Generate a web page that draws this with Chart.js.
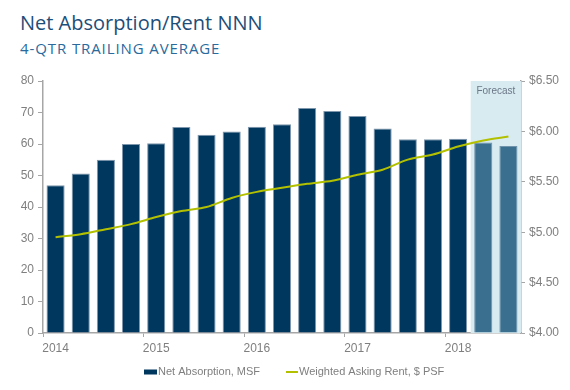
<!DOCTYPE html>
<html>
<head>
<meta charset="utf-8">
<script src="https://cdn.jsdelivr.net/npm/chart.js@4"></script>
<style>
  html,body{margin:0;padding:0;background:#fff;}
  #wrap{position:relative;width:570px;height:390px;overflow:hidden;}
  #title{position:absolute;left:20px;top:9px;font-family:"Open Sans",sans-serif;font-size:20px;color:#1d4e79;white-space:nowrap;}
  #subtitle{position:absolute;left:20px;top:38px;font-family:"Open Sans",sans-serif;font-size:15px;color:#2a6a9c;white-space:nowrap;letter-spacing:0.9px;}
  canvas{position:absolute;left:0;top:0;}
</style>
</head>
<body>
<div id="wrap">
  <div id="title">Net Absorption/Rent NNN</div>
  <div id="subtitle">4-QTR TRAILING AVERAGE</div>
  <canvas id="c" width="570" height="390"></canvas>
</div>
<script>
const quarters = ['2014 Q1','2014 Q2','2014 Q3','2014 Q4','2015 Q1','2015 Q2','2015 Q3','2015 Q4','2016 Q1','2016 Q2','2016 Q3','2016 Q4','2017 Q1','2017 Q2','2017 Q3','2017 Q4','2018 Q1','2018 Q2','2018 Q3'];
const netAbsorption = [46.9, 50.6, 55.0, 60.0, 60.2, 65.4, 62.9, 64.0, 65.5, 66.3, 71.4, 70.5, 68.9, 64.9, 61.5, 61.5, 61.7, 60.5, 59.4];
const askingRent = [4.95, 4.98, 5.03, 5.08, 5.15, 5.21, 5.25, 5.34, 5.40, 5.44, 5.48, 5.51, 5.57, 5.62, 5.72, 5.77, 5.85, 5.91, 5.95];
const forecastStart = 17;
const leftTicks = [0,10,20,30,40,50,60,70,80];
const rightTicks = [4.0,4.5,5.0,5.5,6.0,6.5];

const narrow = '"Liberation Sans Narrow","Liberation Sans",Arial,sans-serif';
const tickFont = {family:narrow, size:12};
const tickColor = '#7f7f7f';
const axisColor = '#a6a6a6';
const barColor = '#00375f';
const forecastBarColor = '#3b6f90';
const lineColor = '#b3c000';

const forecastPlugin = {
  id:'forecast',
  beforeDatasetsDraw(chart){
    const {ctx, chartArea, scales} = chart;
    const x = scales.x;
    const half = (x.getPixelForValue(1) - x.getPixelForValue(0))/2;
    const x0 = x.getPixelForValue(forecastStart) - half;
    ctx.save();
    ctx.fillStyle = '#d8ebf1';
    ctx.fillRect(x0, chartArea.top, chartArea.right - x0, chartArea.bottom - chartArea.top);
    ctx.fillStyle = '#6b7787';
    ctx.font = '10px ' + narrow;
    ctx.textAlign = 'center';
    ctx.textBaseline = 'middle';
    ctx.fillText('Forecast', (x0 + chartArea.right)/2, chartArea.top + 10);
    ctx.restore();
  }
};

const legendPlugin = {
  id:'customLegend',
  afterDraw(chart){
    const ctx = chart.ctx;
    const y = 372;
    ctx.save();
    ctx.font = '11px ' + narrow;
    ctx.textBaseline = 'middle';
    ctx.textAlign = 'left';
    // bar item
    ctx.fillStyle = barColor;
    ctx.fillRect(144, y - 2.5, 13, 5);
    ctx.fillStyle = tickColor;
    ctx.fillText(chart.data.datasets[1].label, 158, y);
    // line item
    ctx.strokeStyle = lineColor;
    ctx.lineWidth = 2;
    ctx.beginPath();
    ctx.moveTo(286, y);
    ctx.lineTo(298, y);
    ctx.stroke();
    ctx.fillStyle = tickColor;
    ctx.fillText(chart.data.datasets[0].label, 299, y);
    ctx.restore();
  }
};

new Chart(document.getElementById('c'), {
  data:{
    labels: quarters,
    datasets:[
      {
        type:'line',
        label:'Weighted Asking Rent, $ PSF',
        data: askingRent,
        yAxisID:'y1',
        borderColor:lineColor,
        backgroundColor:lineColor,
        borderWidth:2,
        pointRadius:0,
        tension:0.3,
        order:0
      },
      {
        type:'bar',
        label:'Net Absorption, MSF',
        data: netAbsorption,
        yAxisID:'y',
        backgroundColor: ctx => ctx.dataIndex >= forecastStart ? forecastBarColor : barColor,
        borderColor: ctx => ctx.dataIndex >= forecastStart ? '#6e93ab' : '#7f97ad',
        borderWidth:{top:1,left:1,right:1,bottom:0},
        borderSkipped:false,
        categoryPercentage:1,
        barPercentage:0.72,
        order:1
      }
    ]
  },
  options:{
    responsive:false,
    animation:false,
    layout:{padding:{top:81, left:0, right:0, bottom:31}},
    plugins:{
      legend:{display:false},
      tooltip:{enabled:false}
    },
    scales:{
      x:{
        offset:true,
        grid:{
          offset:true,
          drawOnChartArea:false,
          drawTicks:true,
          tickLength:4,
          color: c => (c.index % 4 === 0) ? axisColor : 'rgba(0,0,0,0)'
        },
        border:{display:true, color:axisColor, width:1.5},
        ticks:{
          autoSkip:false,
          maxRotation:0,
          padding:4,
          color:tickColor,
          font:tickFont,
          callback:(v,i)=> i % 4 === 0 ? quarters[i].slice(0,4) : ''
        },
        afterFit: s => { s.height = 26; }
      },
      y:{
        position:'left',
        min:0, max:80,
        afterBuildTicks: s => { s.ticks = leftTicks.map(v=>({value:v})); },
        grid:{drawOnChartArea:false, drawTicks:true, tickLength:5, color:axisColor},
        border:{display:true, color:axisColor, width:1.5},
        ticks:{color:tickColor, font:tickFont, padding:4},
        afterFit: s => { s.width = 43; }
      },
      y1:{
        position:'right',
        min:4, max:6.5,
        afterBuildTicks: s => { s.ticks = rightTicks.map(v=>({value:v})); },
        grid:{drawOnChartArea:false, drawTicks:true, tickLength:4, color:axisColor},
        border:{display:true, color:axisColor, width:1.5},
        ticks:{color:tickColor, font:tickFont, padding:4, callback:v=>'$'+Number(v).toFixed(2)},
        afterFit: s => { s.width = 49; }
      }
    }
  },
  plugins:[forecastPlugin, legendPlugin]
});
</script>
</body>
</html>
